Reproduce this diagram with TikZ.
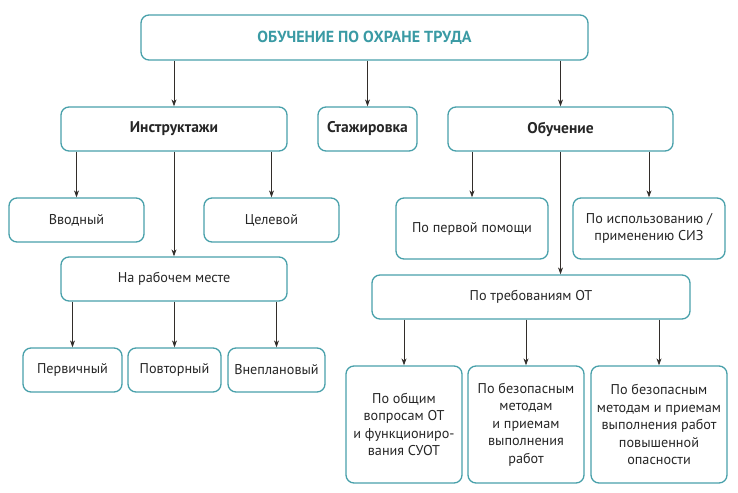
\documentclass[tikz,border=0pt]{standalone}
\usepackage{fontspec}
\setmainfont{PT Sans}
\usetikzlibrary{arrows.meta}
\definecolor{tealb}{RGB}{72,160,170}
\definecolor{tealt}{RGB}{58,154,164}
\definecolor{arrc}{RGB}{50,45,42}
\tikzset{
  box/.style={draw=tealb, line width=1.3pt, rounded corners=8pt, align=center, inner sep=2pt,
    font=\fontsize{14.2}{17.5}\selectfont, text=black!85},
  bbox/.style={box, font=\fontsize{15.5}{18}\selectfont\bfseries},
  arr/.style={draw=arrc, line width=0.8pt, -{Stealth[length=7pt,width=5pt]}}
}
\begin{document}
\begin{tikzpicture}[x=1pt,y=-1pt]
\useasboundingbox (0,0) rectangle (738,492);
\node[box, minimum width=447pt, minimum height=45pt, text=tealt, font=\fontsize{16}{18}\selectfont\bfseries] (top) at (364.5,37.5) {ОБУЧЕНИЕ ПО ОХРАНЕ ТРУДА};
\node[bbox, minimum width=226pt, minimum height=44pt] (instr) at (174,129) {Инструктажи};
\node[bbox, minimum width=99pt, minimum height=44pt] (staj) at (367.5,129) {Стажировка};
\node[bbox, minimum width=225pt, minimum height=44pt] (obuch) at (560.5,129) {Обучение};
\node[box, minimum width=135pt, minimum height=44pt] (vvod) at (76.5,220) {Вводный};
\node[box, minimum width=135pt, minimum height=44pt] (celev) at (271.5,220) {Целевой};
\node[box, minimum width=152pt, minimum height=61pt] (perv) at (472,228.5) {По первой помощи};
\node[box, minimum width=152pt, minimum height=61pt] (siz) at (649,228.5) {По использованию /\\применению СИЗ};
\node[box, minimum width=226pt, minimum height=44pt] (narab) at (174,279) {На рабочем месте};
\node[box, minimum width=99pt, minimum height=44pt] (pervich) at (72.5,370) {Первичный};
\node[box, minimum width=93pt, minimum height=44pt] (povt) at (174.5,370) {Повторный};
\node[box, minimum width=97pt, minimum height=44pt] (vnepl) at (276.5,370) {Внеплановый};
\node[box, minimum width=318pt, minimum height=44pt] (treb) at (531,297) {По требованиям ОТ};
\node[box, minimum width=116pt, minimum height=117pt] (b1) at (404,424.5) {По общим\\вопросам ОТ\\и функциониро-\\вания СУОТ};
\node[box, minimum width=116pt, minimum height=117pt] (b2) at (526,424.5) {По безопасным\\методам\\и приемам\\выполнения\\работ};
\node[box, minimum width=136pt, minimum height=117pt] (b3) at (659,424.5) {По безопасным\\методам и приемам\\выполнения работ\\повышенной\\опасности};
% arrows
\draw[arr] (top.south -| instr.north) -- (instr.north);
\draw[arr] (top.south -| staj.north) -- (staj.north);
\draw[arr] (top.south -| obuch.north) -- (obuch.north);
\draw[arr] (instr.south -| vvod.north) -- (vvod.north);
\draw[arr] (instr.south -| celev.north) -- (celev.north);
\draw[arr] (instr.south) -- (narab.north);
\draw[arr] (obuch.south -| perv.north) -- (perv.north);
\draw[arr] (obuch.south -| siz.north) -- (siz.north);
\draw[arr] (obuch.south) -- (obuch.south |- treb.north);
\draw[arr] (narab.south -| pervich.north) -- (pervich.north);
\draw[arr] (narab.south -| povt.north) -- (povt.north);
\draw[arr] (narab.south -| vnepl.north) -- (vnepl.north);
\draw[arr] (treb.south -| b1.north) -- (b1.north);
\draw[arr] (treb.south -| b2.north) -- (b2.north);
\draw[arr] (treb.south -| b3.north) -- (b3.north);
\end{tikzpicture}
\end{document}
